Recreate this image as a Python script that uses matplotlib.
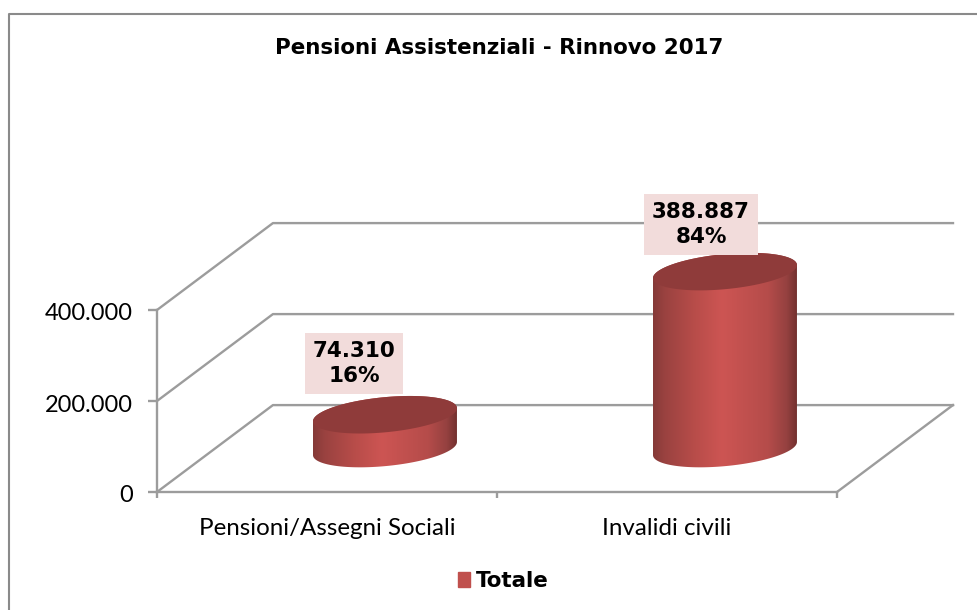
import numpy as np
import matplotlib
matplotlib.use('Agg')
import matplotlib.pyplot as plt
from matplotlib.colors import LinearSegmentedColormap
from matplotlib.lines import Line2D
from matplotlib.patches import Patch, Polygon
from matplotlib.transforms import ScaledTranslation

# data
categories = ['Pensioni/Assegni Sociali', 'Invalidi civili']
values = [74310, 388887]
shares = ['16%', '84%']
y_ticks = [0, 200000, 400000]
y_tick_labels = ['0', '200.000', '400.000']
title = 'Pensioni Assistenziali - Rinnovo 2017'
series_name = 'Totale'

W, H = 978, 610
GRID = '#9c9c9c'
RED = '#c0504d'
LW = 1.7

# fake 3d: how far the back wall sits from the front plane, in data units
depth_x = 0.341
depth_y = 191000
rad_x = 0.1985
rad_d = 0.216

fig = plt.figure(figsize=(W / 100, H / 100), dpi=100)
ax = fig.add_axes([157 / W, (H - 492) / H, (953 - 157) / W, (492 - 222) / H])
ax.set_xlim(0, 796 / 340)
ax.set_ylim(0, 270 / 91 * 200000)
ax.patch.set_alpha(0)

# outer chart frame
fig.add_artist(Line2D([9.2 / W, 9.2 / W, 1], [0, 1 - 13.5 / H, 1 - 13.5 / H], color='#8a8a8a', lw=1.5))

# walls and floor
for v in y_ticks:
    ax.plot([0, depth_x, 796 / 340], [v, v + depth_y, v + depth_y], color=GRID, lw=LW, zorder=1, clip_on=False)
ax.plot([2, 2 + depth_x], [0, depth_y], color=GRID, lw=LW, zorder=1, clip_on=False)

for s in ['top', 'right']:
    ax.spines[s].set_visible(False)
ax.spines['left'].set_bounds(0, 400000)
ax.spines['bottom'].set_bounds(0, 2)
for s in ['left', 'bottom']:
    ax.spines[s].set_color(GRID)
    ax.spines[s].set_linewidth(LW)

ax.set_yticks(y_ticks, y_tick_labels, fontname='Lato', fontsize=17)
ax.set_xticks([0, 1, 2], ['', '', ''])
ax.set_xticks([0.5, 1.5], categories, minor=True, fontname='Lato', fontsize=17.4)
ax.tick_params(axis='y', length=6.5, width=LW, color=GRID, pad=11)
ax.tick_params(axis='x', which='major', length=4, width=LW, color=GRID)
ax.tick_params(axis='x', which='minor', length=0, pad=19)
for lab in ax.get_yticklabels():
    lab.set_transform(lab.get_transform() + ScaledTranslation(0, -2 / 100, fig.dpi_scale_trans))

cmap = LinearSegmentedColormap.from_list('cyl', [
    (0.0, '#853a38'), (0.08, '#9a4240'), (0.3, '#b94d4a'), (0.48, '#cd5553'),
    (0.8, '#b54c4a'), (0.93, '#954140'), (1.0, '#74312f')])
grad = np.linspace(0, 1, 256).reshape(1, -1)


def ellipse(xc, yc, t):
    return xc + rad_x * np.cos(t) + rad_d * depth_x * np.sin(t), yc + rad_d * depth_y * np.sin(t)


t0 = np.arctan2(rad_d * depth_x, rad_x)
label_shift = [(-31, 51), (-24, 47)]
for i, v in enumerate(values):
    xc = i + 0.5 + depth_x / 2
    yc = depth_y / 2
    x1, y1 = ellipse(xc, yc, np.linspace(t0 + np.pi, t0 + 2 * np.pi, 80))
    x2, y2 = ellipse(xc, yc + v, np.linspace(t0, t0 + np.pi, 80))
    body = Polygon(np.column_stack([np.r_[x1, x2], np.r_[y1, y2]]), closed=True, fc='none', ec='none',
                   transform=ax.transData)
    ax.add_patch(body)
    half = np.hypot(rad_x, rad_d * depth_x)
    im = ax.imshow(grad, cmap=cmap, aspect='auto', zorder=3,
                   extent=[xc - half, xc + half, 0, depth_y + v + depth_y])
    im.set_clip_path(body)
    xt, yt = ellipse(xc, yc + v, np.linspace(0, 2 * np.pi, 160))
    ax.fill(xt, yt, color='#8f3b3a', zorder=4, lw=0, clip_on=False)
    ax.annotate(f'{v:,}'.replace(',', '.') + '\n' + shares[i], (xc, yc + v), xytext=label_shift[i],
                textcoords='offset pixels', ha='center', va='center', fontsize=15.5, fontweight='bold',
                linespacing=1.32, zorder=5, annotation_clip=False,
                bbox=dict(boxstyle='square,pad=0.36', fc='#f2dcdb', ec='none'))

ax.set_xlim(0, 796 / 340)
ax.set_ylim(0, 270 / 91 * 200000)

fig.text(499 / W, 1 - 48 / H, title, ha='center', va='center', fontsize=15.4, fontweight='bold')

fig.legend(handles=[Patch(color=RED, label=series_name)], loc='center', bbox_to_anchor=(503.5 / W, 1 - 581 / H),
           frameon=False, prop=dict(size=15.4, weight='bold'), handlelength=0.56, handleheight=0.7,
           handletextpad=0.25, borderpad=0)

fig.savefig('out.png', dpi=100)
